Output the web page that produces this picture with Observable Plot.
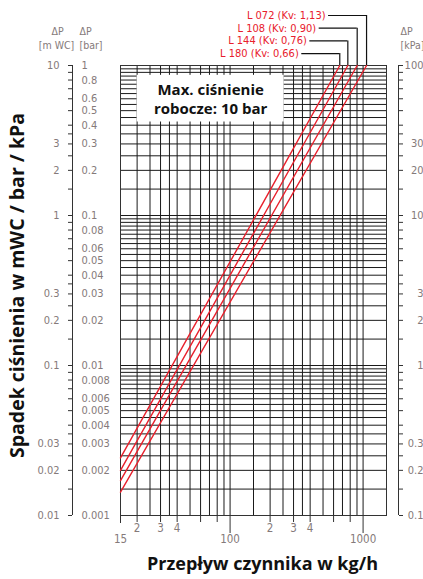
<!DOCTYPE html>
<html><head><meta charset="utf-8">
<script src="https://cdn.jsdelivr.net/npm/d3@7"></script>
<script src="https://cdn.jsdelivr.net/npm/@observablehq/plot@0.6"></script>
<style>
html,body{margin:0;padding:0;background:#fff;}
svg{display:block;}
</style>
</head><body><div id="chart"></div>
<script>
// ---- data ----
const seriesNames = ["L 072 (Kv: 1,13)", "L 108 (Kv: 0,90)", "L 144 (Kv: 0,76)", "L 180 (Kv: 0,66)"];
const flowStart = [15, 15, 15, 15];            // kg/h
const dpStart = [0.0143, 0.0171, 0.0200, 0.0242]; // mWC at start
const flowEnd = [1062, 903, 768, 668];          // kg/h at 10 mWC
const dpEnd = [10, 10, 10, 10];                 // mWC

const gridFlow = [20,25,30,35,40,50,60,70,80,90,100,150,200,250,300,350,400,500,600,700,800,900,1000];
const gridSteps = [1,1.5,2,2.5,3,3.5,4,4.5,5,5.5,6,6.5,7,7.5,8,8.5,9,9.5];
const decades = [0.01, 0.1, 1];
const yLabelSteps = [1,2,3,4,5,6,8];
const yMinorSteps = [1.5,2.5,3.5,7,9];
const xSmallLabels = [20,30,40,60,80,200,300,400,600,800];
const xBigLabels = [100,1000];
const xStartLabel = [15];
const boxText = "Max. ciśnienie\nrobocze: 10 bar";
const boxX = [20, 255];   // kg/h
const boxY = [4.2, 8.6];  // mWC
const xTitle = "Przepływ czynnika w kg/h";
const yTitle = "Spadek ciśnienia w mWC / bar / kPa";
const unitHeaders = [
  {t: "ΔP", side: "left", dx: -63, dy: -34, anchor: "middle"},
  {t: "[m WC]", side: "left", dx: -64, dy: -20, anchor: "middle"},
  {t: "ΔP", side: "left", dx: -41, dy: -34, anchor: "start"},
  {t: "[bar]", side: "left", dx: -41, dy: -20, anchor: "start"},
  {t: "ΔP", side: "right", dx: 14, dy: -34, anchor: "start"},
  {t: "[kPa]", side: "right", dx: 14, dy: -20, anchor: "start"}
];

// ---- derived ----
const gridDp = decades.flatMap(d => gridSteps.map(s => +(s*d).toPrecision(4))).concat([10]);
const yLabels = decades.flatMap(d => yLabelSteps.map(s => +(s*d).toPrecision(4))).concat([10]);
const yMinor = decades.flatMap(d => yMinorSteps.map(s => +(s*d).toPrecision(4)));
const fmt = v => String(+v.toPrecision(6));

const series = seriesNames.map((name, i) => ({name, i, x0: flowStart[i], y0: dpStart[i], x1: flowEnd[i], y1: dpEnd[i]}));
const lineData = series.flatMap(s => [{name: s.name, q: s.x0, dp: s.y0}, {name: s.name, q: s.x1, dp: s.y1}]);

const RED = "#e8202c";
const GREY = "#857a7a";
const NARROW = "'Liberation Sans Narrow', 'DejaVu Sans Condensed', 'Roboto Condensed', sans-serif";
const BOLD = "'Open Sans', Lato, sans-serif";

const leaderMarks = series.flatMap((s, k) => {
  const up = 50 - 12.7 * k;
  return [
    Plot.ruleX([s], {x: "x1", y1: 10, y2: 10, insetTop: -up, stroke: "#111", strokeWidth: 1.2}),
    Plot.ruleY([s], {y: 10, x1: "x1", x2: "x1", dy: -up, insetLeft: -38, stroke: "#111", strokeWidth: 1.2}),
    Plot.text([s], {x: "x1", y: 10, dy: -up, dx: -41, text: "name", textAnchor: "end", lineAnchor: "middle", fill: RED, fontSize: 11, fontFamily: NARROW})
  ];
});

const headerMarks = unitHeaders.map(h =>
  Plot.text([h], {frameAnchor: h.side === "left" ? "top-left" : "top-right", dx: h.dx, dy: h.dy, text: "t", textAnchor: h.anchor, lineAnchor: "middle", fill: GREY, fontSize: 10.5})
);

const chart = Plot.plot({
  width: 423, height: 579,
  marginLeft: 120, marginRight: 37, marginTop: 65, marginBottom: 64,
  x: {type: "log", domain: [15, 1500], label: null},
  y: {type: "log", domain: [0.01, 10], label: null},
  style: {fontFamily: NARROW, background: "white", overflow: "visible"},
  marks: [
    Plot.ruleX(gridFlow, {stroke: "#1a1a1a", strokeWidth: 1}),
    Plot.ruleY(gridDp, {stroke: "#1a1a1a", strokeWidth: 1}),
    Plot.rect([{}], {x1: boxX[0], x2: boxX[1], y1: boxY[0], y2: boxY[1], fill: "white"}),
    Plot.text([boxText], {x: Math.sqrt(boxX[0]*boxX[1]), y: Math.sqrt(boxY[0]*boxY[1]), text: d => d, textAnchor: "middle", lineAnchor: "middle", fontSize: 15, fontWeight: "bold", fontFamily: BOLD, fill: "#111", lineHeight: 1.25}),
    Plot.frame({stroke: "#333", strokeWidth: 1}),
    Plot.line(lineData, {x: "q", y: "dp", z: "name", stroke: RED, strokeWidth: 1.4}),
    ...leaderMarks,
    // left axis (mWC + bar)
    Plot.ruleX([15], {dx: -48, stroke: "#333"}),
    Plot.axisY({anchor: "left", label: null, ticks: yLabels, tickSize: 4, tickPadding: 9, dx: -48, tickFormat: fmt, fill: GREY, stroke: "#333", fontSize: 11}),
    Plot.axisY({anchor: "left", label: null, ticks: yMinor, tickSize: 4, dx: -48, tickFormat: () => "", stroke: "#333"}),
    Plot.text(yLabels, {y: d => d, frameAnchor: "left", dx: -39, textAnchor: "start", lineAnchor: "middle", text: d => fmt(d / 10), fill: GREY, fontSize: 11}),
    // right axis (kPa)
    Plot.ruleX([1500], {dx: 12, stroke: "#333"}),
    Plot.axisY({anchor: "right", label: null, ticks: yLabels, tickSize: 4, tickPadding: 21, dx: 12, textAnchor: "end", tickFormat: d => fmt(d * 10), fill: GREY, stroke: "#333", fontSize: 11}),
    Plot.axisY({anchor: "right", label: null, ticks: yMinor, tickSize: 4, dx: 12, tickFormat: () => "", stroke: "#333"}),
    // x axis
    Plot.axisX({anchor: "bottom", label: null, ticks: xSmallLabels, tickSize: 7, tickPadding: 1, tickFormat: d => String(d).charAt(0), fill: GREY, stroke: "#333", fontSize: 11.5}),
    Plot.axisX({anchor: "bottom", label: null, ticks: xBigLabels, tickSize: 18, tickPadding: 1, tickFormat: d => String(d), fill: GREY, stroke: "#333", fontSize: 11.5}),
    Plot.axisX({anchor: "bottom", label: null, ticks: xStartLabel, tickSize: 8, tickPadding: 11, tickFormat: d => String(d), fill: GREY, stroke: "#333", fontSize: 11.5}),
    // unit headers
    ...headerMarks,
    // titles
    Plot.text([xTitle], {frameAnchor: "bottom", dx: 9, dy: 49, text: d => d, textAnchor: "middle", lineAnchor: "middle", fontSize: 18, fontWeight: "bold", fontFamily: BOLD, fill: "#111"}),
    Plot.text([yTitle], {frameAnchor: "left", dx: -103, dy: -5, rotate: -90, text: d => d, textAnchor: "middle", lineAnchor: "middle", fontSize: 19.5, fontWeight: "bold", fontFamily: BOLD, fill: "#111"})
  ]
});
document.getElementById("chart").appendChild(chart);
</script>
</body></html>
